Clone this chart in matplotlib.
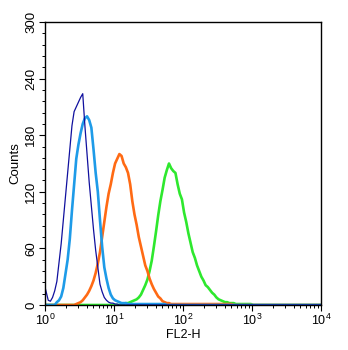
import numpy as np
import matplotlib
matplotlib.use("Agg")
import matplotlib.pyplot as plt
from matplotlib.ticker import MultipleLocator, LogLocator, NullFormatter

plt.rcParams['font.family'] = ['Liberation Sans', 'DejaVu Sans']
plt.rcParams['mathtext.fontset'] = 'custom'
plt.rcParams['mathtext.rm'] = 'Liberation Sans'
plt.rcParams['mathtext.it'] = 'Liberation Sans'

# histogram channels: 32 per decade over 4 decades (FL2-H 1..10^4)
n_channels = 128
per_decade = 32

# counts per channel, each series starts at the given channel
navy_start = 0
navy_counts = [19, 5, 4, 8, 15, 25, 45, 65, 90, 115, 140, 165, 190, 205, 210, 215,
               220, 224, 190, 160, 130, 105, 80, 58, 40, 22, 14, 8, 5, 3, 2, 2, 1, 1]

blue_start = 5
blue_counts = [3, 5, 9, 18, 33, 48, 70, 100, 128, 155, 170, 182, 192, 198, 200, 196,
               188, 165, 140, 120, 90, 62, 40, 28, 18, 11, 7, 5, 4, 3, 2, 2, 2,
               1, 1, 1, 1, 1, 1, 1, 1, 1, 1, 1, 1, 1, 1, 1, 1, 1, 1]

orange_start = 14
orange_counts = [1, 2, 3, 5, 8, 11, 15, 20, 26, 34, 44, 56, 72, 88, 104, 118, 128,
                 140, 150, 155, 160, 158, 150, 146, 140, 128, 110, 96, 85, 72, 62,
                 52, 42, 36, 28, 22, 17, 13, 9, 7, 4, 3, 2, 2,
                 1, 1, 1, 1, 1, 1, 1, 1, 1, 1, 1, 1, 1, 1, 1, 1, 1, 1, 1, 1, 1, 1,
                 1, 1, 1, 1, 1, 1, 1]

green_start = 35
green_counts = [1, 1, 2, 2, 3, 4, 5, 6, 8, 11, 16, 21, 27, 36, 47, 62, 78, 95, 110,
                122, 135, 143, 150, 145, 142, 140, 128, 118, 112, 98, 88, 76, 66,
                56, 50, 42, 36, 30, 26, 21, 19, 16, 13, 11, 8, 6, 5, 4, 3, 3, 2, 2,
                2, 1, 1, 1, 1, 1, 1, 1, 1]


def full_hist(start, counts):
    h = np.zeros(n_channels)
    h[start:start + len(counts)] = counts
    return h


centers = 10 ** ((np.arange(n_channels) + 0.5) / per_decade)
centers[0] = 1.0
centers[-1] = 1e4

fig = plt.figure(figsize=(3.48, 3.50), dpi=100)
ax = fig.add_axes([45 / 348, 45 / 350, 276 / 348, 283 / 350])

ax.plot(centers, full_hist(green_start, green_counts), color='#2ee82e', lw=1.9)
ax.plot(centers, full_hist(orange_start, orange_counts), color='#ff6a14', lw=1.9)
ax.plot(centers, full_hist(blue_start, blue_counts), color='#1e9be8', lw=1.9)
ax.plot(centers, full_hist(navy_start, navy_counts), color='#10109e', lw=0.9)

ax.set_xscale('log')
ax.set_xlim(1, 1e4)
ax.set_ylim(0, 300)

ax.yaxis.set_major_locator(MultipleLocator(60))
ax.yaxis.set_minor_locator(MultipleLocator(12))
ax.xaxis.set_major_locator(LogLocator(base=10, numticks=10))
ax.xaxis.set_minor_locator(LogLocator(base=10, subs=np.arange(2, 10), numticks=10))
ax.xaxis.set_minor_formatter(NullFormatter())

ax.tick_params(which='major', direction='out', length=4, width=0.8, pad=1.5)
ax.tick_params(which='minor', direction='out', length=2.5, width=0.7)
ax.tick_params(axis='x', labelsize=9)
ax.tick_params(axis='y', labelsize=9.5)

for lab in ax.get_yticklabels():
    lab.set_rotation(90)
    lab.set_va('center')

for s in ax.spines.values():
    s.set_linewidth(1.0)

ax.set_xlabel('FL2-H', fontsize=9, labelpad=1)
ax.set_ylabel('Counts', fontsize=9.5, labelpad=3)

fig.savefig('out.png', dpi=100)
